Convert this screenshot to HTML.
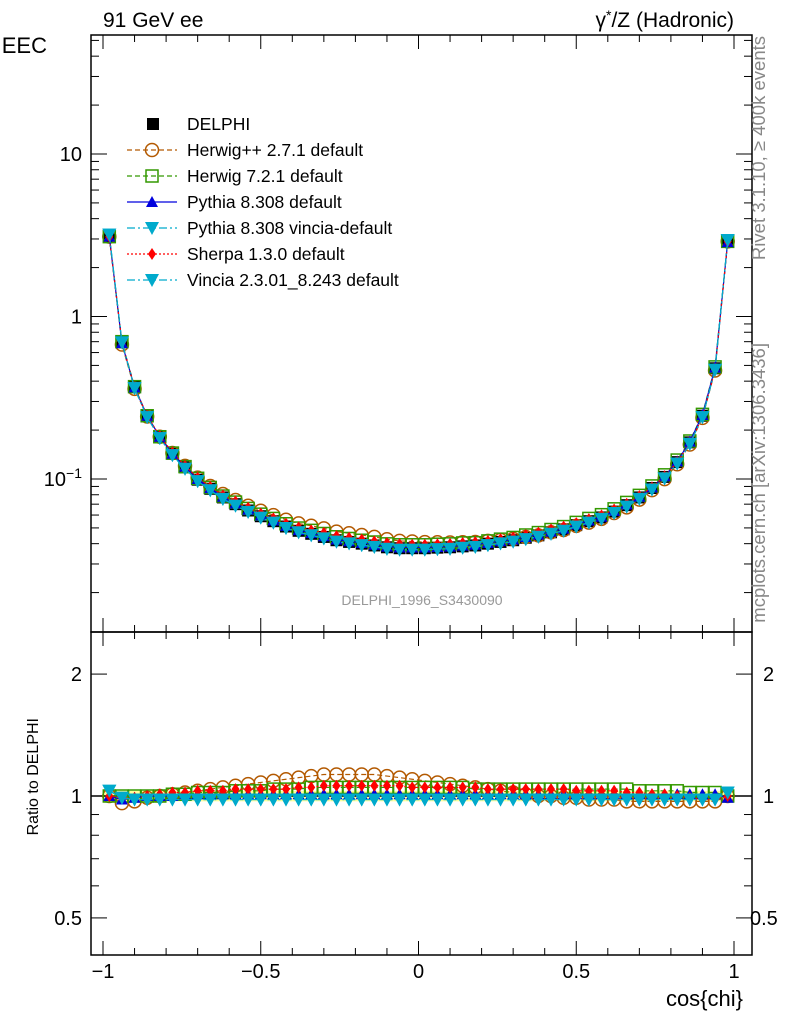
<!DOCTYPE html>
<html><head><meta charset="utf-8">
<style>
body{margin:0;background:#fff;}
svg{display:block;font-family:"Liberation Sans",sans-serif;}
</style></head>
<body>
<svg id="chart" width="786" height="1024" viewBox="0 0 786 1024" xmlns="http://www.w3.org/2000/svg"></svg>
<script>
const xCenters=[-0.98,-0.94,-0.90,-0.86,-0.82,-0.78,-0.74,-0.70,-0.66,-0.62,-0.58,-0.54,-0.50,-0.46,-0.42,-0.38,-0.34,-0.30,-0.26,-0.22,-0.18,-0.14,-0.10,-0.06,-0.02,0.02,0.06,0.10,0.14,0.18,0.22,0.26,0.30,0.34,0.38,0.42,0.46,0.50,0.54,0.58,0.62,0.66,0.70,0.74,0.78,0.82,0.86,0.90,0.94,0.98];
const delphi=[3.1,0.70,0.37,0.245,0.182,0.143,0.118,0.099,0.087,0.077,0.070,0.064,0.059,0.055,0.051,0.048,0.046,0.044,0.042,0.041,0.040,0.039,0.038,0.0375,0.0375,0.0375,0.0378,0.038,0.0385,0.039,0.040,0.041,0.042,0.0435,0.045,0.047,0.049,0.052,0.055,0.058,0.063,0.069,0.077,0.088,0.103,0.127,0.168,0.245,0.48,2.9];
const rHerwigpp=[1.0,0.96,0.97,0.99,1.0,1.01,1.02,1.03,1.04,1.05,1.06,1.07,1.08,1.09,1.10,1.11,1.12,1.13,1.13,1.13,1.13,1.13,1.12,1.11,1.10,1.09,1.08,1.07,1.06,1.05,1.04,1.03,1.02,1.01,1.0,1.0,0.99,0.99,0.98,0.98,0.98,0.97,0.97,0.97,0.97,0.97,0.97,0.97,0.97,1.0];
const rHerwig7=[1.0,1.0,1.0,1.0,1.0,1.01,1.01,1.02,1.02,1.02,1.03,1.03,1.03,1.04,1.04,1.04,1.05,1.05,1.05,1.05,1.05,1.05,1.05,1.05,1.05,1.05,1.05,1.05,1.05,1.04,1.04,1.04,1.04,1.04,1.04,1.04,1.04,1.04,1.04,1.04,1.04,1.04,1.03,1.03,1.03,1.03,1.02,1.02,1.02,1.0];
const rPythia=[1.0,0.98,0.99,1.0,1.0,1.0,1.01,1.01,1.01,1.01,1.01,1.01,1.01,1.01,1.01,1.01,1.01,1.01,1.01,1.01,1.01,1.01,1.01,1.01,1.01,1.01,1.01,1.01,1.01,1.01,1.01,1.01,1.01,1.01,1.01,1.01,1.01,1.01,1.01,1.01,1.01,1.01,1.01,1.01,1.01,1.01,1.01,1.01,1.01,0.99];
const rVinciaDef=[1.03,0.99,0.98,0.98,0.98,0.98,0.98,0.98,0.98,0.98,0.98,0.98,0.98,0.98,0.98,0.98,0.98,0.98,0.98,0.98,0.98,0.98,0.98,0.98,0.98,0.98,0.98,0.98,0.98,0.98,0.98,0.98,0.98,0.98,0.98,0.98,0.98,0.98,0.98,0.98,0.98,0.98,0.98,0.98,0.98,0.98,0.98,0.98,0.98,1.02];
const rSherpa=[1.0,0.99,0.99,1.0,1.01,1.02,1.02,1.03,1.03,1.03,1.04,1.04,1.04,1.04,1.04,1.05,1.05,1.06,1.06,1.06,1.06,1.06,1.06,1.06,1.05,1.05,1.05,1.05,1.05,1.05,1.04,1.04,1.04,1.04,1.04,1.04,1.04,1.03,1.03,1.03,1.03,1.02,1.02,1.01,1.01,1.0,0.99,0.98,0.98,1.0];
const rVincia=rVinciaDef;
const bandErr=0.03;
const xTicks=[-1,-0.5,0,0.5,1];
const xTickLabels=["\u22121","\u22120.5","0","0.5","1"];

const svg=document.getElementById('chart');
const NS='http://www.w3.org/2000/svg';
function mk(tag,attrs,parent,name,inter){const e=document.createElementNS(NS,tag);for(const k in attrs)e.setAttribute(k,attrs[k]);


(parent||svg).appendChild(e);return e;}
const L=91,R=752,T=35,MB=632,B=955;
const X=v=>418.5+v*315.5;
const Y=v=>154-(Math.log10(v)-1)*162.5;
const YR=v=>796-Math.log10(v)*405;
const bw=0.04;

const gBand=mk('g',{},svg,'uncertainty-band');
xCenters.forEach((c,i)=>{mk('rect',{x:X(c-bw/2),y:YR(1+bandErr),width:X(c+bw/2)-X(c-bw/2),height:YR(1-bandErr)-YR(1+bandErr),fill:'#ffff99'},gBand,'band-bin');});

mk('rect',{x:L,y:T,width:R-L,height:MB-T,fill:'none',stroke:'#000','stroke-width':1.5},svg,'main-frame');
mk('rect',{x:L,y:MB,width:R-L,height:B-MB,fill:'none',stroke:'#000','stroke-width':1.5},svg,'ratio-frame');
mk('line',{x1:L,x2:R,y1:YR(1),y2:YR(1),stroke:'#000','stroke-width':1.5},svg,'ratio-unity-line');

for(let v=-1;v<=1.0001;v+=0.1){const maj=Math.abs(v*2-Math.round(v*2))<1e-6;const len=maj?14:7;
 [[MB,-1],[B,-1],[T,1],[MB,1]].forEach(([y,d])=>mk('line',{x1:X(v),x2:X(v),y1:y,y2:y+d*len,stroke:'#000'},svg,'x-tick'));}
xTicks.forEach((v,i)=>{const t=mk('text',{x:X(v),y:978,'font-size':20,'text-anchor':'middle'},svg,'x-tick-label');t.textContent=xTickLabels[i];});
for(let d=-2;d<=1;d++)for(let m=1;m<10;m++){const v=m*Math.pow(10,d);const y=Y(v);if(y<T||y>MB)continue;const len=m==1?16:8;
 mk('line',{x1:L,x2:L+len,y1:y,y2:y,stroke:'#000'},svg,'y-tick');mk('line',{x1:R,x2:R-len,y1:y,y2:y,stroke:'#000'},svg,'y-tick');}
[[10,'10'],[1,'1']].forEach(([v,s])=>{const t=mk('text',{x:82,y:Y(v)+7,'font-size':20,'text-anchor':'end'},svg,'y-tick-label');t.textContent=s;});
const t01=mk('text',{x:82,y:Y(0.1)+7,'font-size':20,'text-anchor':'end'},svg,'y-tick-label');t01.innerHTML='10<tspan dy="-8" font-size="14">\u22121</tspan>';
[0.5,0.6,0.7,0.8,0.9,1,2].forEach(v=>{const y=YR(v);const len=(v==1||v==2||v==0.5)?16:8;
 mk('line',{x1:L,x2:L+len,y1:y,y2:y,stroke:'#000'},svg,'ratio-tick');mk('line',{x1:R,x2:R-len,y1:y,y2:y,stroke:'#000'},svg,'ratio-tick');});
[[2,'2'],[1,'1'],[0.5,'0.5']].forEach(([v,s])=>{let t=mk('text',{x:82,y:YR(v)+7,'font-size':20,'text-anchor':'end'},svg,'ratio-tick-label');t.textContent=s;
 t=mk('text',{x:750,y:YR(v)+7,'font-size':20},svg,'ratio-tick-label-right');t.textContent=(s.length==1?'  ':'')+s;t.setAttribute('x',s.length==1?763:750);});

function marker(g,type,x,y,col){
 if(type=='sq')mk('rect',{x:x-6,y:y-6,width:12,height:12,fill:'#000'},g,'marker');
 else if(type=='osq')mk('rect',{x:x-6,y:y-6,width:12,height:12,fill:'none',stroke:col,'stroke-width':1.5},g,'marker');
 else if(type=='circ')mk('circle',{cx:x,cy:y,r:6.5,fill:'none',stroke:col,'stroke-width':1.5},g,'marker');
 else if(type=='tri')mk('path',{d:`M${x-6},${y+5}L${x+6},${y+5}L${x},${y-6}Z`,fill:col},g,'marker');
 else if(type=='itri')mk('path',{d:`M${x-7},${y-6}L${x+7},${y-6}L${x},${y+7}Z`,fill:col},g,'marker');
 else if(type=='dia')mk('path',{d:`M${x},${y-6}L${x+4},${y}L${x},${y+6}L${x-4},${y}Z`,fill:col},g,'marker');
}
const series=[
 {name:'herwigpp',r:rHerwigpp,col:'#b35900',m:'circ',dash:'5,3',label:'Herwig++ 2.7.1 default'},
 {name:'herwig7',r:rHerwig7,col:'#339900',m:'osq',dash:'5,3',label:'Herwig 7.2.1 default'},
 {name:'pythia',r:rPythia,col:'#0000dd',m:'tri',dash:'',label:'Pythia 8.308 default'},
 {name:'pythia-vincia',r:rVinciaDef,col:'#00aacc',m:'itri',dash:'8,3,2,3',label:'Pythia 8.308 vincia-default'},
 {name:'sherpa',r:rSherpa,col:'#ff0000',m:'dia',dash:'2,2',label:'Sherpa 1.3.0 default'},
 {name:'vincia',r:rVincia,col:'#00aacc',m:'itri',dash:'8,3,2,3',label:'Vincia 2.3.01_8.243 default'}];
const gD=mk('g',{},svg,'delphi-series');
xCenters.forEach((c,i)=>marker(gD,'sq',X(c),Y(delphi[i])));
series.forEach(s=>{
 const g=mk('g',{},svg,s.name+'-series');
 const pm=xCenters.map((c,i)=>X(c)+','+Y(delphi[i]*s.r[i])).join('L');
 mk('path',{d:'M'+pm,fill:'none',stroke:s.col,'stroke-width':1.2,'stroke-dasharray':s.dash},g,s.name+'-line');
 const pr=xCenters.map((c,i)=>X(c)+','+YR(s.r[i])).join('L');
 mk('path',{d:'M'+pr,fill:'none',stroke:s.col,'stroke-width':1.2,'stroke-dasharray':s.dash},g,s.name+'-ratio-line');
 xCenters.forEach((c,i)=>{marker(g,s.m,X(c),Y(delphi[i]*s.r[i]),s.col);marker(g,s.m,X(c),YR(s.r[i]),s.col);});
});
const lg=mk('g',{},svg,'legend');
let ly=124;
marker(lg,'sq',153,ly);let lt=mk('text',{x:187,y:ly+6,'font-size':17.5},lg,'legend-entry');lt.textContent='DELPHI';
series.forEach((s,k)=>{const y=124+26*(k+1);
 mk('line',{x1:127,x2:177,y1:y,y2:y,stroke:s.col,'stroke-width':1.2,'stroke-dasharray':s.dash},lg,'legend-line');
 marker(lg,s.m,152,y,s.col);
 const t=mk('text',{x:187,y:y+6,'font-size':17.5},lg,'legend-entry');t.textContent=s.label;});
function txt(s,a,name){const t=mk('text',a,svg,name);t.textContent=s;return t;}
txt('91 GeV ee',{x:103,y:27,'font-size':21},'process-label');
const tz=mk('text',{x:734,y:27,'font-size':21,'text-anchor':'end'},svg,'analysis-title');tz.innerHTML='\u03b3<tspan dy="-7" font-size="14">*</tspan><tspan dy="7">/Z (Hadronic)</tspan>';
txt('EEC',{x:47,y:53,'font-size':22,'text-anchor':'end'},'y-axis-title');
txt('cos{chi}',{x:743,y:1006,'font-size':22,'text-anchor':'end'},'x-axis-title');
txt('Ratio to DELPHI',{x:0,y:0,'font-size':16,'text-anchor':'end',transform:'translate(38,718) rotate(-90)'},'ratio-axis-title');
txt('DELPHI_1996_S3430090',{x:422,y:605,'font-size':14,fill:'#999','text-anchor':'middle'},'analysis-watermark');
txt('Rivet 3.1.10, \u2265 400k events',{x:0,y:0,'font-size':18.5,fill:'#888','text-anchor':'end',transform:'translate(765,36) rotate(-90)'},'rivet-label');
txt('mcplots.cern.ch [arXiv:1306.3436]',{x:0,y:0,'font-size':18.5,fill:'#888','text-anchor':'end',transform:'translate(765,343) rotate(-90)'},'mcplots-label');
</script>
</body></html>
